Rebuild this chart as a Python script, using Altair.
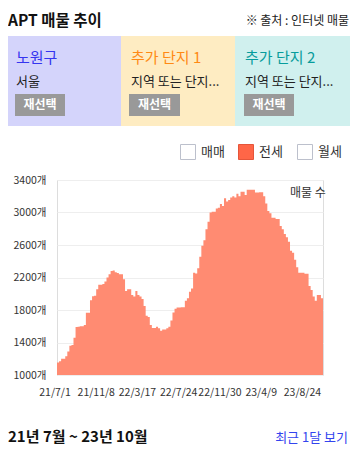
import altair as alt
import pandas as pd

# ---- data ----
listing_counts = [
    1155, 1170, 1200, 1200, 1230, 1290, 1360, 1370, 1460, 1590,
    1595, 1600, 1600, 1615, 1765, 1765, 1920, 1970, 1975, 2055,
    2110, 2110, 2120, 2150, 2200, 2240, 2280, 2285, 2265, 2255,
    2240, 2240, 2180, 2035, 2055, 2055, 1985, 1965, 2035, 1985,
    1965, 1935, 1850, 1730, 1715, 1615, 1580, 1580, 1595, 1575,
    1545, 1560, 1560, 1575, 1595, 1670, 1770, 1815, 1830, 1830,
    1835, 1835, 1915, 1945, 2025, 2065, 2260, 2250, 2315, 2455,
    2590, 2660, 2795, 2885, 3000, 3010, 3010, 3050, 3060, 3105,
    3080, 3175, 3135, 3155, 3185, 3200, 3185, 3230, 3200, 3255,
    3255, 3215, 3280, 3280, 3280, 3280, 3245, 3245, 3250, 3250,
    3200, 3110, 3020, 2990, 2935, 2935, 2920, 2920, 2835, 2795,
    2735, 2695, 2640, 2530, 2505, 2420, 2325, 2260, 2260, 2260,
    2245, 2245, 2095, 2045, 1965, 1915, 1985, 1985, 1945,
]
date_labels = ["21/7/1", "21/11/8", "22/3/17", "22/7/24", "22/11/30", "23/4/9", "23/8/24"]
label_step = 20
y_ticks = [1000, 1400, 1800, 2200, 2600, 3000, 3400]

panel_titles = ["노원구", "추가 단지 1", "추가 단지 2"]
panel_subs = ["서울", "지역 또는 단지...", "지역 또는 단지..."]
legend_items = ["매매", "전세", "월세"]

FONT = "Noto Sans CJK KR"
N = len(listing_counts)

df = pd.DataFrame({
    "i": list(range(N + 1)),
    "v": listing_counts + [listing_counts[-1]],
})

label_expr = "[" + ",".join("'%s'" % s for s in date_labels) + "][round(datum.value/%d)]" % label_step

main = alt.Chart(df).mark_area(interpolate="step-after", color="#ff8b72").encode(
    x=alt.X("i:Q", scale=alt.Scale(domain=[0, N], nice=False, zero=False),
            axis=alt.Axis(values=list(range(0, len(date_labels) * label_step, label_step)),
                          labelExpr=label_expr, grid=False, ticks=False, domain=False,
                          labelOverlap=False, labelFlush=False, labelBound=False,
                          labelPadding=12, labelOffset=-2.5, labelFontSize=10.5,
                          labelColor="#333333", labelFont=FONT, title=None)),
    y=alt.Y("v:Q", scale=alt.Scale(domain=[1000, 3400], nice=False, zero=False, clamp=True),
            axis=alt.Axis(values=y_ticks, labelExpr="datum.value + '개'", ticks=False,
                          domain=False, grid=True, gridColor="#eeeeee", labelPadding=11,
                          labelFontSize=10.5, labelColor="#333333", labelFont=FONT, title=None)),
    y2=alt.datum(1000),
)

one = alt.Data(values=[{"k": 1}])


def rect(x1, x2, y1, y2, fill, stroke=None):
    kw = dict(fill=fill)
    if stroke:
        kw.update(stroke=stroke, strokeWidth=1)
    return alt.Chart(one).mark_rect(**kw).encode(
        x=alt.value(x1), x2=alt.value(x2), y=alt.value(y1), y2=alt.value(y2))


def text(s, x, y, size, color="#222222", weight="normal", align="left", baseline="alphabetic"):
    return alt.Chart(one).mark_text(text=s, fontSize=size, color=color, fontWeight=weight,
                                    align=align, baseline=baseline, font=FONT).encode(
        x=alt.value(x), y=alt.value(y))


layers = [main]

# header
layers.append(text("APT 매물 추이", -49, -154.5, 15.5, "#111111", "bold"))
layers.append(text("※ 출처 : 인터넷 매물", 292, -155, 12, "#222222", align="right"))

# panels
panel_x = [(-49, 64), (64, 178), (178, 293)]
panel_fill = ["#d4d4fb", "#feecc2", "#d0f0ee"]
title_colors = ["#3535f0", "#ff8a14", "#079c9c"]
btn_x = [(-42, 8), (72, 123), (187, 237)]
for k in range(3):
    layers.append(rect(panel_x[k][0], panel_x[k][1], -144, -54, panel_fill[k]))
for k in range(3):
    tx = panel_x[k][0] + (8 if k == 0 else 10)
    layers.append(text(panel_titles[k], tx, -117, 15, title_colors[k]))
    layers.append(text(panel_subs[k], tx, -94, 13, "#222222"))
    layers.append(rect(btn_x[k][0], btn_x[k][1], -86, -64, "#999999"))
    layers.append(text("재선택", (btn_x[k][0] + btn_x[k][1]) / 2, -75, 12, "#ffffff", "bold",
                       align="center", baseline="middle"))

# legend
box_x = [123.5, 181.5, 240.5]
for k in range(3):
    if k == 1:
        layers.append(rect(box_x[k], box_x[k] + 15, -35.5, -20.5, "#ff6647", "#e5553a"))
    else:
        layers.append(rect(box_x[k], box_x[k] + 15, -35.5, -20.5, "#ffffff", "#bcc0cc"))
    layers.append(text(legend_items[k], box_x[k] + 20.5, -28, 13, "#333333", baseline="middle"))

# in-plot label
layers.append(text("매물 수", 233, 17, 12, "#333333"))

# footer
layers.append(text("21년 7월 ~ 23년 10월", -49, 262, 15, "#111111", "bold"))
layers.append(text("최근 1달 보기", 291, 262, 13, "#3344ee", align="right"))

chart = alt.layer(*layers).properties(
    width=266, height=195,
    padding={"left": 49, "top": 172, "right": 27, "bottom": 76},
    autosize=alt.AutoSizeParams(type="none"),
).configure_view(stroke="#eeeeee", strokeWidth=1).configure(font=FONT)

chart.save("out.html", embed_options={"renderer": "svg", "actions": False})
